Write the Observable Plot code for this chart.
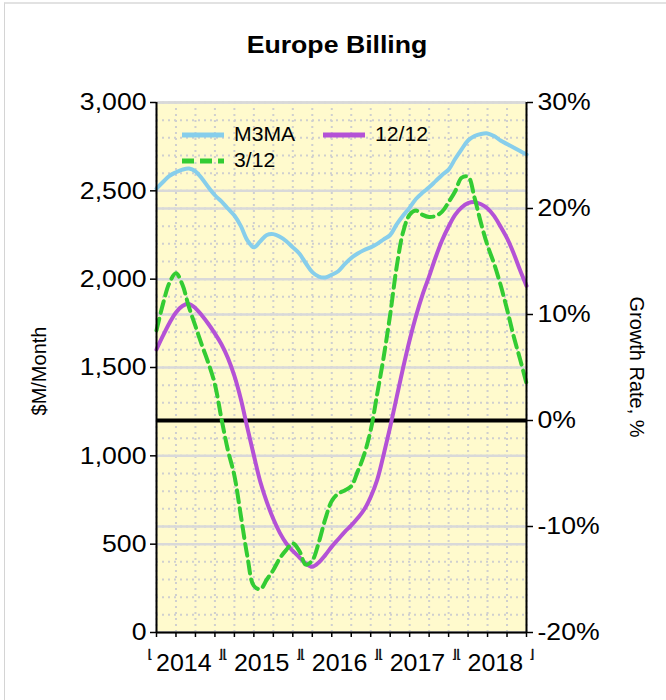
<!DOCTYPE html>
<html><head><meta charset="utf-8">
<script src="https://cdn.jsdelivr.net/npm/d3@7"></script>
<script src="https://cdn.jsdelivr.net/npm/@observablehq/plot@0.6"></script>
<style>
body{margin:0;background:#fff;font-family:"Liberation Sans",Arial,sans-serif;}
#wrap{position:relative;width:666px;height:700px;overflow:hidden;}
#card{position:absolute;left:4px;top:2px;width:700px;height:720px;border-left:1px solid #d4d4d4;border-top:2px solid #e2e2e2;}
#chart,#overlay{position:absolute;left:0;top:0;}
</style></head><body>
<div id="wrap"><div id="card"></div><div id="chart"></div><svg id="overlay" width="666" height="700"></svg></div>
<script>
// ---- data ----
const months = ["2014-02","2014-03","2014-04","2014-05","2014-06","2014-07","2014-08","2014-09","2014-10","2014-11","2014-12",
"2015-01","2015-02","2015-03","2015-04","2015-05","2015-06","2015-07","2015-08","2015-09","2015-10","2015-11","2015-12",
"2016-01","2016-02","2016-03","2016-04","2016-05","2016-06","2016-07","2016-08","2016-09","2016-10","2016-11","2016-12",
"2017-01","2017-02","2017-03","2017-04","2017-05","2017-06","2017-07","2017-08","2017-09","2017-10","2017-11","2017-12",
"2018-01","2018-02","2018-03","2018-04","2018-05","2018-06","2018-07","2018-08","2018-09","2018-10","2018-11"];
// M3MA, $M/Month (left axis)
const m3ma = [2513,2550,2585,2605,2620,2626,2610,2570,2520,2475,2440,2400,2360,2300,2220,2180,2215,2250,2255,2240,
2215,2180,2145,2090,2040,2015,2010,2025,2045,2085,2120,2145,2165,2180,2200,2225,2250,2310,2360,2405,
2455,2490,2520,2555,2590,2620,2680,2735,2785,2810,2822,2825,2810,2785,2765,2745,2725,2705];
// 12/12 growth rate, % (right axis)
const g1212 = [6.7,8.0,9.2,10.2,10.8,11.0,10.6,9.9,9.1,8.2,7.2,5.9,4.2,2.0,-0.7,-3.3,-5.8,-7.7,-9.3,-10.6,
-11.6,-12.3,-12.9,-13.5,-13.8,-13.4,-12.7,-11.9,-11.2,-10.5,-9.9,-9.2,-8.4,-7.2,-5.6,-3.2,-0.6,2.2,5.0,7.6,
9.9,11.9,13.6,15.4,17.0,18.3,19.4,20.1,20.5,20.6,20.4,20.0,19.3,18.3,17.2,15.8,14.2,12.7];
// 3/12 growth rate, % (right axis)
const g312 = [8.5,11.0,13.0,13.9,12.8,10.7,8.9,7.1,5.4,3.4,0.2,-2.8,-5.2,-9.0,-12.8,-15.6,-15.9,-15.0,-14.1,-13.0,
-12.2,-11.6,-12.3,-13.6,-13.2,-11.5,-9.3,-7.6,-6.9,-6.6,-6.2,-4.8,-3.2,-0.9,2.5,6.0,10.0,14.5,17.8,19.4,
19.8,19.4,19.2,19.3,19.7,20.6,21.6,22.9,23.0,21.0,18.6,16.5,14.8,12.8,10.5,8.0,5.8,3.5];
const years = ["2014","2015","2016","2017","2018"];
const leftTicks = [0,500,1000,1500,2000,2500,3000];
const rightTicks = [-20,-10,0,10,20,30];
const leftDomain = [0,3000];
const rightDomain = [-20,30];
const seriesNames = ["M3MA","12/12","3/12"];
const colors = {"M3MA":"#87CEEB","12/12":"#B452D6","3/12":"#33CC33"};

// ---- helpers ----
const toLeft = p => leftDomain[0] + (p - rightDomain[0]) * (leftDomain[1]-leftDomain[0]) / (rightDomain[1]-rightDomain[0]);
const idx = months.map((d,i)=>i);
const xTicks = idx.filter(i => i % 3 === 0);
const minorY = d3.range(leftDomain[0], leftDomain[1]+1, 100);
const rows = s => idx.map(i => ({i, v: s === "M3MA" ? m3ma[i] : toLeft(s === "12/12" ? g1212[i] : g312[i])}));
const yearCenter = years.map((y,k) => 4.2 + 12*k);
const bracketPos = [yearCenter[0]-5.2, ...yearCenter.slice(1).map((c,k)=>(c+yearCenter[k])/2), yearCenter[4]+5.6];
const bracketTxt = ["\u230A", "\u230B\u230A","\u230B\u230A","\u230B\u230A","\u230B\u230A","\u230B"];

const FONT = '"Liberation Sans", Arial, sans-serif';
const plot = Plot.plot({
  width: 666, height: 700,
  marginLeft: 156, marginRight: 140, marginTop: 102, marginBottom: 68,
  style: {fontFamily: FONT, fontSize: "24px", background: "transparent", color: "#000", overflow: "visible"},
  x: {type: "linear", domain: [0, months.length-1], axis: null},
  y: {domain: leftDomain, axis: null},
  marks: [
    Plot.frame({fill: "#FFFACD", stroke: null}),
    Plot.gridY(minorY, {stroke: "#cfcfcf", strokeOpacity: 1, strokeWidth: 2, strokeDasharray: "2,4"}),
    Plot.gridX(xTicks, {stroke: "#cfcfcf", strokeOpacity: 1, strokeWidth: 2, strokeDasharray: "2,4"}),
    Plot.gridY(leftTicks, {stroke: "#d9d9d9", strokeOpacity: 1, strokeWidth: 2.5}),
    Plot.gridY(rightTicks.map(toLeft), {stroke: "#d9d9d9", strokeOpacity: 1, strokeWidth: 2.5}),
    Plot.ruleY([toLeft(0)], {stroke: "#000", strokeWidth: 4}),
    Plot.line(rows("M3MA"), {x: "i", y: "v", stroke: colors["M3MA"], strokeWidth: 4, curve: "catmull-rom"}),
    Plot.line(rows("12/12"), {x: "i", y: "v", stroke: colors["12/12"], strokeWidth: 4, curve: "catmull-rom"}),
    Plot.line(rows("3/12"), {x: "i", y: "v", stroke: colors["3/12"], strokeWidth: 4, strokeDasharray: "12,6", curve: "catmull-rom"}),
    Plot.ruleX([0, months.length-1], {stroke: "#000", strokeWidth: 2}),
    Plot.ruleY([leftDomain[0]], {stroke: "#000", strokeWidth: 2}),
    Plot.axisY(leftTicks, {anchor: "left", label: null, tickSize: 6, tickPadding: 4, tickFormat: d3.format(","), fontSize: 24, strokeWidth: 1.5, className: "sx-tick"}),
    Plot.axisY(rightTicks.map(toLeft), {anchor: "right", label: null, tickSize: 6, tickPadding: 5, fontSize: 24, strokeWidth: 1.5, className: "sx-tick",
      tickFormat: d => `${Math.round(rightDomain[0] + (d-leftDomain[0])*(rightDomain[1]-rightDomain[0])/(leftDomain[1]-leftDomain[0]))}%`}),
    Plot.axisX(xTicks, {anchor: "bottom", label: null, tickSize: 5, tickFormat: () => "", strokeWidth: 1.5}),
    Plot.axisX(yearCenter, {anchor: "bottom", label: null, tickSize: 0, tickPadding: 21, fontSize: 24, tickFormat: (d,k) => years[k], className: "sx-year"}),
    Plot.text(bracketPos, {x: d => d, text: (d,k) => bracketTxt[k], frameAnchor: "bottom", dy: 25, fontSize: 12, fill: "#000", stroke: "#000", strokeWidth: 0.5, fontFamily: "DejaVu Sans"})
  ]
});
document.getElementById("chart").appendChild(plot);

// ---- title, axis titles, legend (overlay) ----
const ov = d3.select("#overlay").style("font-family", FONT);
ov.append("text").attr("class","sx-title").attr("x", 337).attr("y", 53).attr("text-anchor","middle").attr("font-weight","bold").attr("font-size", 23).text("Europe Billing");
ov.append("text").attr("transform","translate(46,371) rotate(-90)").attr("text-anchor","middle").attr("font-size",20).text("$M/Month");
ov.append("text").attr("transform","translate(630,367) rotate(90)").attr("text-anchor","middle").attr("font-size",20).text("Growth Rate, %");
const leg = [
  {name: seriesNames[0], x: 182, y: 135},
  {name: seriesNames[1], x: 323, y: 135},
  {name: seriesNames[2], x: 182, y: 161}
];
leg.forEach(l => {
  ov.append("line").attr("x1", l.x).attr("x2", l.x+42).attr("y1", l.y).attr("y2", l.y)
    .attr("stroke", colors[l.name]).attr("stroke-width", 5)
    .attr("stroke-dasharray", l.name === "3/12" ? "12,6" : null);
  ov.append("text").attr("class","sx-leg").attr("x", l.x+52).attr("y", l.y+6.5).attr("font-size", 20).text(l.name);
});

// horizontal widening of glyphs to match the reference's wide lettering
function widen(sel, s) {
  document.querySelectorAll(sel).forEach(t => {
    const b = t.getBBox();
    const a = getComputedStyle(t).textAnchor;
    const ax = a === "end" ? b.x + b.width : a === "middle" ? b.x + b.width/2 : b.x;
    const tr = t.getAttribute("transform") || "";
    t.setAttribute("transform", `${tr} translate(${ax},0) scale(${s},1) translate(${-ax},0)`);
  });
}
widen(".sx-tick text", 1.11);
widen(".sx-year text", 1.04);
widen(".sx-title", 1.16);
widen(".sx-leg", 1.06);
</script>
</body></html>
